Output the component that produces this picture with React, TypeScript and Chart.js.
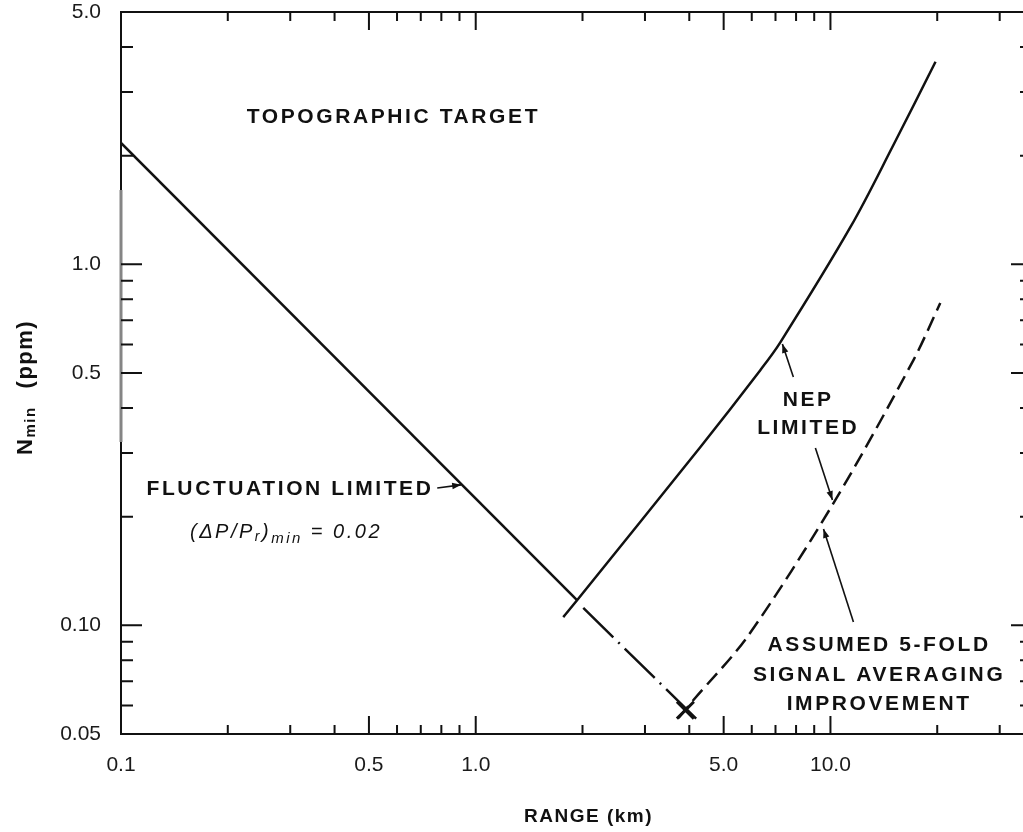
import React, { useEffect, useRef } from "react";
import { Chart, registerables } from "chart.js";

Chart.register(...registerables);

// ---------- axes ----------
const X_MIN = 0.1;
const X_MAX = 37;
const Y_MIN = 0.05;
const Y_MAX = 5;
const X_TICKS = [0.1, 0.5, 1, 5, 10];
const X_TICK_LABELS = ["0.1", "0.5", "1.0", "5.0", "10.0"];
const Y_TICKS = [0.05, 0.1, 0.5, 1, 5];
const Y_TICK_LABELS = ["0.05", "0.10", "0.5", "1.0", "5.0"];
const X_MINOR = [0.2, 0.3, 0.4, 0.6, 0.7, 0.8, 0.9, 2, 3, 4, 6, 7, 8, 9, 20, 30];
const Y_MINOR = [0.06, 0.07, 0.08, 0.09, 0.2, 0.3, 0.4, 0.6, 0.7, 0.8, 0.9, 2, 3, 4];

// ---------- series (range km, Nmin ppm) ----------
const FLUCT_R = [0.1, 1.93];
const FLUCT_N = [2.17, 0.1175];
const FLUCT_EXT_R = [2.01, 4.22];
const FLUCT_EXT_N = [0.1117, 0.0547];
const NEP_R = [1.765, 1.933, 4.3, 6.35, 7.23, 11.39, 15.05, 19.78];
const NEP_N = [0.1054, 0.1175, 0.312, 0.51, 0.609, 1.269, 2.14, 3.64];
const AVG_R = [3.73, 4.11, 5.83, 10.2, 17.14, 20.4];
const AVG_N = [0.0554, 0.0621, 0.0929, 0.218, 0.543, 0.781];
const CROSS_R = [3.9];
const CROSS_N = [0.0582];

// ---------- annotations (data coordinates) ----------
const LABELS = [
  { text: "TOPOGRAPHIC TARGET", r: 0.581, n: 2.55 },
  { text: "FLUCTUATION LIMITED", r: 0.297, n: 0.2378 },
  { text: "NEP", r: 8.585, n: 0.421 },
  { text: "LIMITED", r: 8.585, n: 0.351 },
  { text: "ASSUMED 5-FOLD", r: 13.6, n: 0.0882 },
  { text: "SIGNAL AVERAGING", r: 13.6, n: 0.0729 },
  { text: "IMPROVEMENT", r: 13.6, n: 0.0604 },
];
const ARROWS = [
  { r1: 0.779, n1: 0.24, r2: 0.91, n2: 0.245 },
  { r1: 7.86, n1: 0.4874, r2: 7.32, n2: 0.6016 },
  { r1: 9.07, n1: 0.31, r2: 10.13, n2: 0.2225 },
  { r1: 11.61, n1: 0.1021, r2: 9.56, n2: 0.1849 },
];
const FORMULA_AT = { r: 0.1565, n: 0.1746 };

const INK = "#111111";
const FONT = '"Liberation Sans", Arial, Helvetica, sans-serif';

const pts = (xs: number[], ys: number[]) => xs.map((x, i) => ({ x, y: ys[i] }));

function arrow(ctx: CanvasRenderingContext2D, x1: number, y1: number, x2: number, y2: number, head = 9, w = 3.2) {
  ctx.beginPath();
  ctx.moveTo(x1, y1);
  ctx.lineTo(x2, y2);
  ctx.stroke();
  const a = Math.atan2(y2 - y1, x2 - x1);
  const c = Math.cos(a), s = Math.sin(a);
  ctx.beginPath();
  ctx.moveTo(x2, y2);
  ctx.lineTo(x2 - head * c + w * s, y2 - head * s - w * c);
  ctx.lineTo(x2 - head * c - w * s, y2 - head * s + w * c);
  ctx.closePath();
  ctx.fill();
}

const decor = {
  id: "decor",
  afterDatasetsDraw(chart: any) {
    const { ctx, chartArea: a, scales } = chart;
    const sx = scales.x, sy = scales.y;
    const X = (v: number) => sx.getPixelForValue(v);
    const Y = (v: number) => sy.getPixelForValue(v);
    ctx.save();
    ctx.strokeStyle = INK;
    ctx.fillStyle = INK;
    ctx.lineCap = "butt";

    // frame
    ctx.lineWidth = 2;
    ctx.strokeRect(a.left, a.top, a.right - a.left, a.bottom - a.top);
    // faded portion of the left axis (scan artefact)
    ctx.strokeStyle = "#858585";
    ctx.lineWidth = 3;
    ctx.beginPath();
    ctx.moveTo(a.left, a.top + 178);
    ctx.lineTo(a.left, a.top + 430);
    ctx.stroke();
    ctx.strokeStyle = INK;

    // inward tick marks
    ctx.lineWidth = 2;
    const xt = (v: number, len: number) => {
      const p = X(v);
      ctx.beginPath();
      ctx.moveTo(p, a.bottom);
      ctx.lineTo(p, a.bottom - len);
      ctx.moveTo(p, a.top);
      ctx.lineTo(p, a.top + len);
      ctx.stroke();
    };
    const yt = (v: number, len: number) => {
      const p = Y(v);
      ctx.beginPath();
      ctx.moveTo(a.left, p);
      ctx.lineTo(a.left + len, p);
      ctx.moveTo(a.right, p);
      ctx.lineTo(a.right - len, p);
      ctx.stroke();
    };
    X_TICKS.forEach((v) => xt(v, 18));
    X_MINOR.forEach((v) => xt(v, 9));
    Y_TICKS.forEach((v) => yt(v, 21));
    Y_MINOR.forEach((v) => yt(v, 12));

    // arrows
    ctx.lineWidth = 1.6;
    ARROWS.forEach((ar) => arrow(ctx, X(ar.r1), Y(ar.n1), X(ar.r2), Y(ar.n2)));

    // labels
    ctx.font = `bold 21px ${FONT}`;
    ctx.letterSpacing = "2.6px";
    ctx.textAlign = "center";
    ctx.textBaseline = "middle";
    LABELS.forEach((l) => ctx.fillText(l.text, X(l.r) + 1.3, Y(l.n)));

    // formula (ΔP/Pr)min = 0.02
    ctx.textAlign = "left";
    ctx.textBaseline = "alphabetic";
    ctx.letterSpacing = "2.5px";
    let fx = X(FORMULA_AT.r);
    const fy = Y(FORMULA_AT.n);
    const piece = (t: string, size: number, dy: number) => {
      ctx.font = `italic ${size}px ${FONT}`;
      ctx.fillText(t, fx, fy + dy);
      fx += ctx.measureText(t).width;
    };
    piece("(\u0394P/P", 20, 0);
    piece("r", 14, 3);
    piece(")", 20, 0);
    piece("min", 15, 5);
    piece(" = 0.02", 20, 0);

    // x-axis title
    ctx.font = `bold 19px ${FONT}`;
    ctx.letterSpacing = "1.5px";
    ctx.textAlign = "center";
    ctx.fillText("RANGE (km)", (a.left + a.right) / 2 + 12, a.bottom + 88);

    // y-axis title, rotated: N_min (ppm)
    ctx.translate(a.left - 89, a.top + 443);
    ctx.rotate(-Math.PI / 2);
    ctx.textAlign = "left";
    let u = 0;
    ctx.font = `bold 22px ${FONT}`;
    ctx.fillText("N", u, 0);
    u += ctx.measureText("N").width;
    ctx.font = `bold 15px ${FONT}`;
    ctx.fillText("min", u, 3);
    u += ctx.measureText("min").width + 18;
    ctx.font = `bold 22px ${FONT}`;
    ctx.fillText("(ppm)", u, 0);

    ctx.restore();
  },
};

export default function App() {
  const ref = useRef<HTMLCanvasElement>(null);
  useEffect(() => {
    const lineDs = (label: string, data: any[], extra: any = {}) => ({
      label,
      data,
      showLine: true,
      borderColor: INK,
      backgroundColor: INK,
      borderWidth: 2.5,
      pointRadius: 0,
      fill: false,
      ...extra,
    });
    const chart = new Chart(ref.current as HTMLCanvasElement, {
      type: "scatter",
      data: {
        datasets: [
          lineDs("Fluctuation limited", pts(FLUCT_R, FLUCT_N)),
          lineDs("Fluctuation limited (extended)", pts(FLUCT_EXT_R, FLUCT_EXT_N), { borderDash: [42, 7, 2, 7] }),
          lineDs("NEP limited", pts(NEP_R, NEP_N), { tension: 0.35 }),
          lineDs("5-fold signal averaging", pts(AVG_R, AVG_N), { tension: 0.3, borderDash: [15, 7] }),
          {
            label: "Crossover",
            data: pts(CROSS_R, CROSS_N),
            showLine: false,
            pointStyle: "crossRot",
            pointRadius: 12,
            borderWidth: 3,
            borderColor: INK,
            backgroundColor: INK,
          },
        ],
      },
      options: {
        animation: false,
        responsive: false,
        maintainAspectRatio: false,
        events: [],
        layout: { autoPadding: false, padding: { top: 12, right: 1, left: 0, bottom: 0 } },
        plugins: { legend: { display: false }, tooltip: { enabled: false } },
        scales: {
          x: {
            type: "logarithmic",
            min: X_MIN,
            max: X_MAX,
            grid: { display: false, drawTicks: false },
            border: { display: false },
            afterBuildTicks: (s: any) => {
              s.ticks = X_TICKS.map((v) => ({ value: v }));
            },
            afterFit: (s: any) => {
              s.height = 98;
              s.paddingLeft = 0;
              s.paddingRight = 0;
              s.paddingTop = 0;
              s.paddingBottom = 0;
            },
            ticks: {
              autoSkip: false,
              maxRotation: 0,
              padding: 19,
              color: "#1a1a1a",
              font: { family: FONT, size: 21 },
              callback: (v: any) => {
                const i = X_TICKS.findIndex((t) => Math.abs(t - Number(v)) < 1e-9);
                return i >= 0 ? X_TICK_LABELS[i] : "";
              },
            },
          },
          y: {
            type: "logarithmic",
            min: Y_MIN,
            max: Y_MAX,
            grid: { display: false, drawTicks: false },
            border: { display: false },
            afterBuildTicks: (s: any) => {
              s.ticks = Y_TICKS.map((v) => ({ value: v }));
            },
            afterFit: (s: any) => {
              s.width = 121;
              s.paddingLeft = 0;
              s.paddingRight = 0;
              s.paddingTop = 0;
              s.paddingBottom = 0;
            },
            ticks: {
              autoSkip: false,
              padding: 20,
              color: "#1a1a1a",
              font: { family: FONT, size: 21 },
              callback: (v: any) => {
                const i = Y_TICKS.findIndex((t) => Math.abs(t - Number(v)) < 1e-9);
                return i >= 0 ? Y_TICK_LABELS[i] : "";
              },
            },
          },
        },
      },
      plugins: [decor],
    } as any);
    return () => chart.destroy();
  }, []);
  return (
    <div
      style={{
        position: "absolute",
        left: 0,
        top: 0,
        width: 1023,
        height: 832,
        overflow: "hidden",
        background: "#fff",
      }}
    >
      <div style={{ position: "relative", width: 1033, height: 832 }}>
        <canvas ref={ref} width={1033} height={832} style={{ display: "block", width: 1033, height: 832 }} />
      </div>
    </div>
  );
}
